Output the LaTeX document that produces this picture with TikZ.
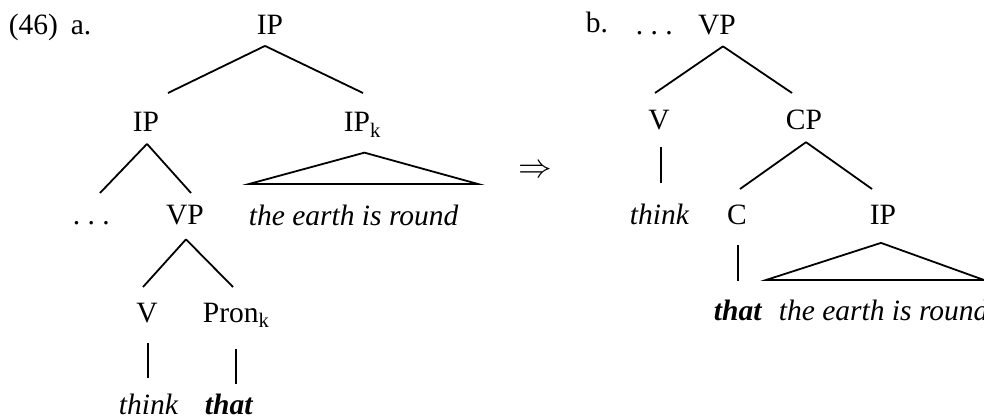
\documentclass[tikz,border=0pt]{standalone}
\usepackage{graphicx}
\usepackage{fontspec}
\setmainfont{Liberation Serif}
\usetikzlibrary{positioning}

\begin{document}
\begin{tikzpicture}[x=1pt, y=-1pt, font=\fontsize{29.5}{34}\selectfont, line width=1.8pt]
\tikzstyle{cat}=[anchor=base, inner sep=0pt]
\tikzstyle{lex}=[cat, anchor=base west, font=\fontsize{29.5}{34}\selectfont\itshape]
\tikzstyle{roof}=[line join=miter]
\useasboundingbox (0,0) rectangle (984,419);
% (46a)
\node[cat, anchor=base west] (ex) at (8,35) {(46)};
\node[cat, anchor=base west] (la) at (70,35) {a.};
\node[cat] (ip0) at (270,35) {IP};
\node[cat] (ip1) at (146,132) {IP};
\node[cat, anchor=base west] (ipk) at (343,132) {IP\textsubscript{k}};
\node[cat, anchor=base west] (dots1) at (72,225) {.\ .\ .};
\node[cat] (vp1) at (185,225) {VP};
\node[lex] (clause1) at (248,226) {the earth is round};
\node[cat] (v1) at (147,322) {V};
\node[cat, anchor=base west] (pron) at (202,322) {Pron\textsubscript{k}};
\node[lex] (think1) at (118,414) {think};
\node[lex] (that1) at (204,414) {\bfseries that};
\coordinate (ip0-l) at (168,93);  \coordinate (ip0-r) at (363,93);
\coordinate (ip1-l) at (100,193); \coordinate (ip1-r) at (191,193);
\coordinate (vp1-l) at (143,287); \coordinate (vp1-r) at (233,287);
\draw ([xshift=-5pt, yshift=-10pt]ip0.south) -- (ip0-l);
\draw ([xshift=-5pt, yshift=-10pt]ip0.south) -- (ip0-r);
\foreach \n/\s in {ip1/-11, vp1/-13}{
  \draw ([xshift=1pt, yshift=\s pt]\n.south) -- (\n-l);
  \draw ([xshift=1pt, yshift=\s pt]\n.south) -- (\n-r);
}
\draw[roof] ([xshift=2pt, yshift=-14pt]ipk.south) -- (249,184) -- (478,184) -- cycle;
\draw ([xshift=1pt, yshift=-20pt]v1.south) -- ([xshift=1pt, yshift=-55pt]v1.south);
\draw ([yshift=-20pt]pron.south) -- ([yshift=-55pt]pron.south);
% arrow
\node[cat, anchor=center] (arr) at (535,171) {\scalebox{1.35}{$\Rightarrow$}};
% (46b)
\node[cat, anchor=base west] (lb) at (585,33) {b.};
\node[cat, anchor=base west] (dots2) at (635,35) {.\ .\ .};
\node[cat] (vp2) at (717,35) {VP};
\node[cat] (v2) at (659,130) {V};
\node[cat] (cp) at (804,130) {CP};
\node[lex] (think2) at (629,225) {think};
\node[cat] (c) at (737,225) {C};
\node[cat] (ip2) at (883,225) {IP};
\node[lex] (that2) at (713,320) {\bfseries that};
\node[lex] (clause2) at (778,320) {the earth is round};
\coordinate (vp2-l) at (655,93); \coordinate (vp2-r) at (792,93);
\coordinate (cp-l) at (740,189);  \coordinate (cp-r) at (872,189);
\draw ([xshift=6pt, yshift=-10pt]vp2.south) -- (vp2-l);
\draw ([xshift=6pt, yshift=-10pt]vp2.south) -- (vp2-r);
\draw ([xshift=2pt, yshift=-11pt]cp.south) -- (cp-l);
\draw ([xshift=2pt, yshift=-11pt]cp.south) -- (cp-r);
\draw ([xshift=2pt, yshift=-16pt]v2.south) -- ([xshift=2pt, yshift=-52pt]v2.south);
\draw ([xshift=1pt, yshift=-19pt]c.south) -- ([xshift=1pt, yshift=-55pt]c.south);
\draw[roof] ([xshift=-2pt, yshift=-17pt]ip2.south) -- (766,280) -- (984,280) -- cycle;
\end{tikzpicture}
\end{document}
